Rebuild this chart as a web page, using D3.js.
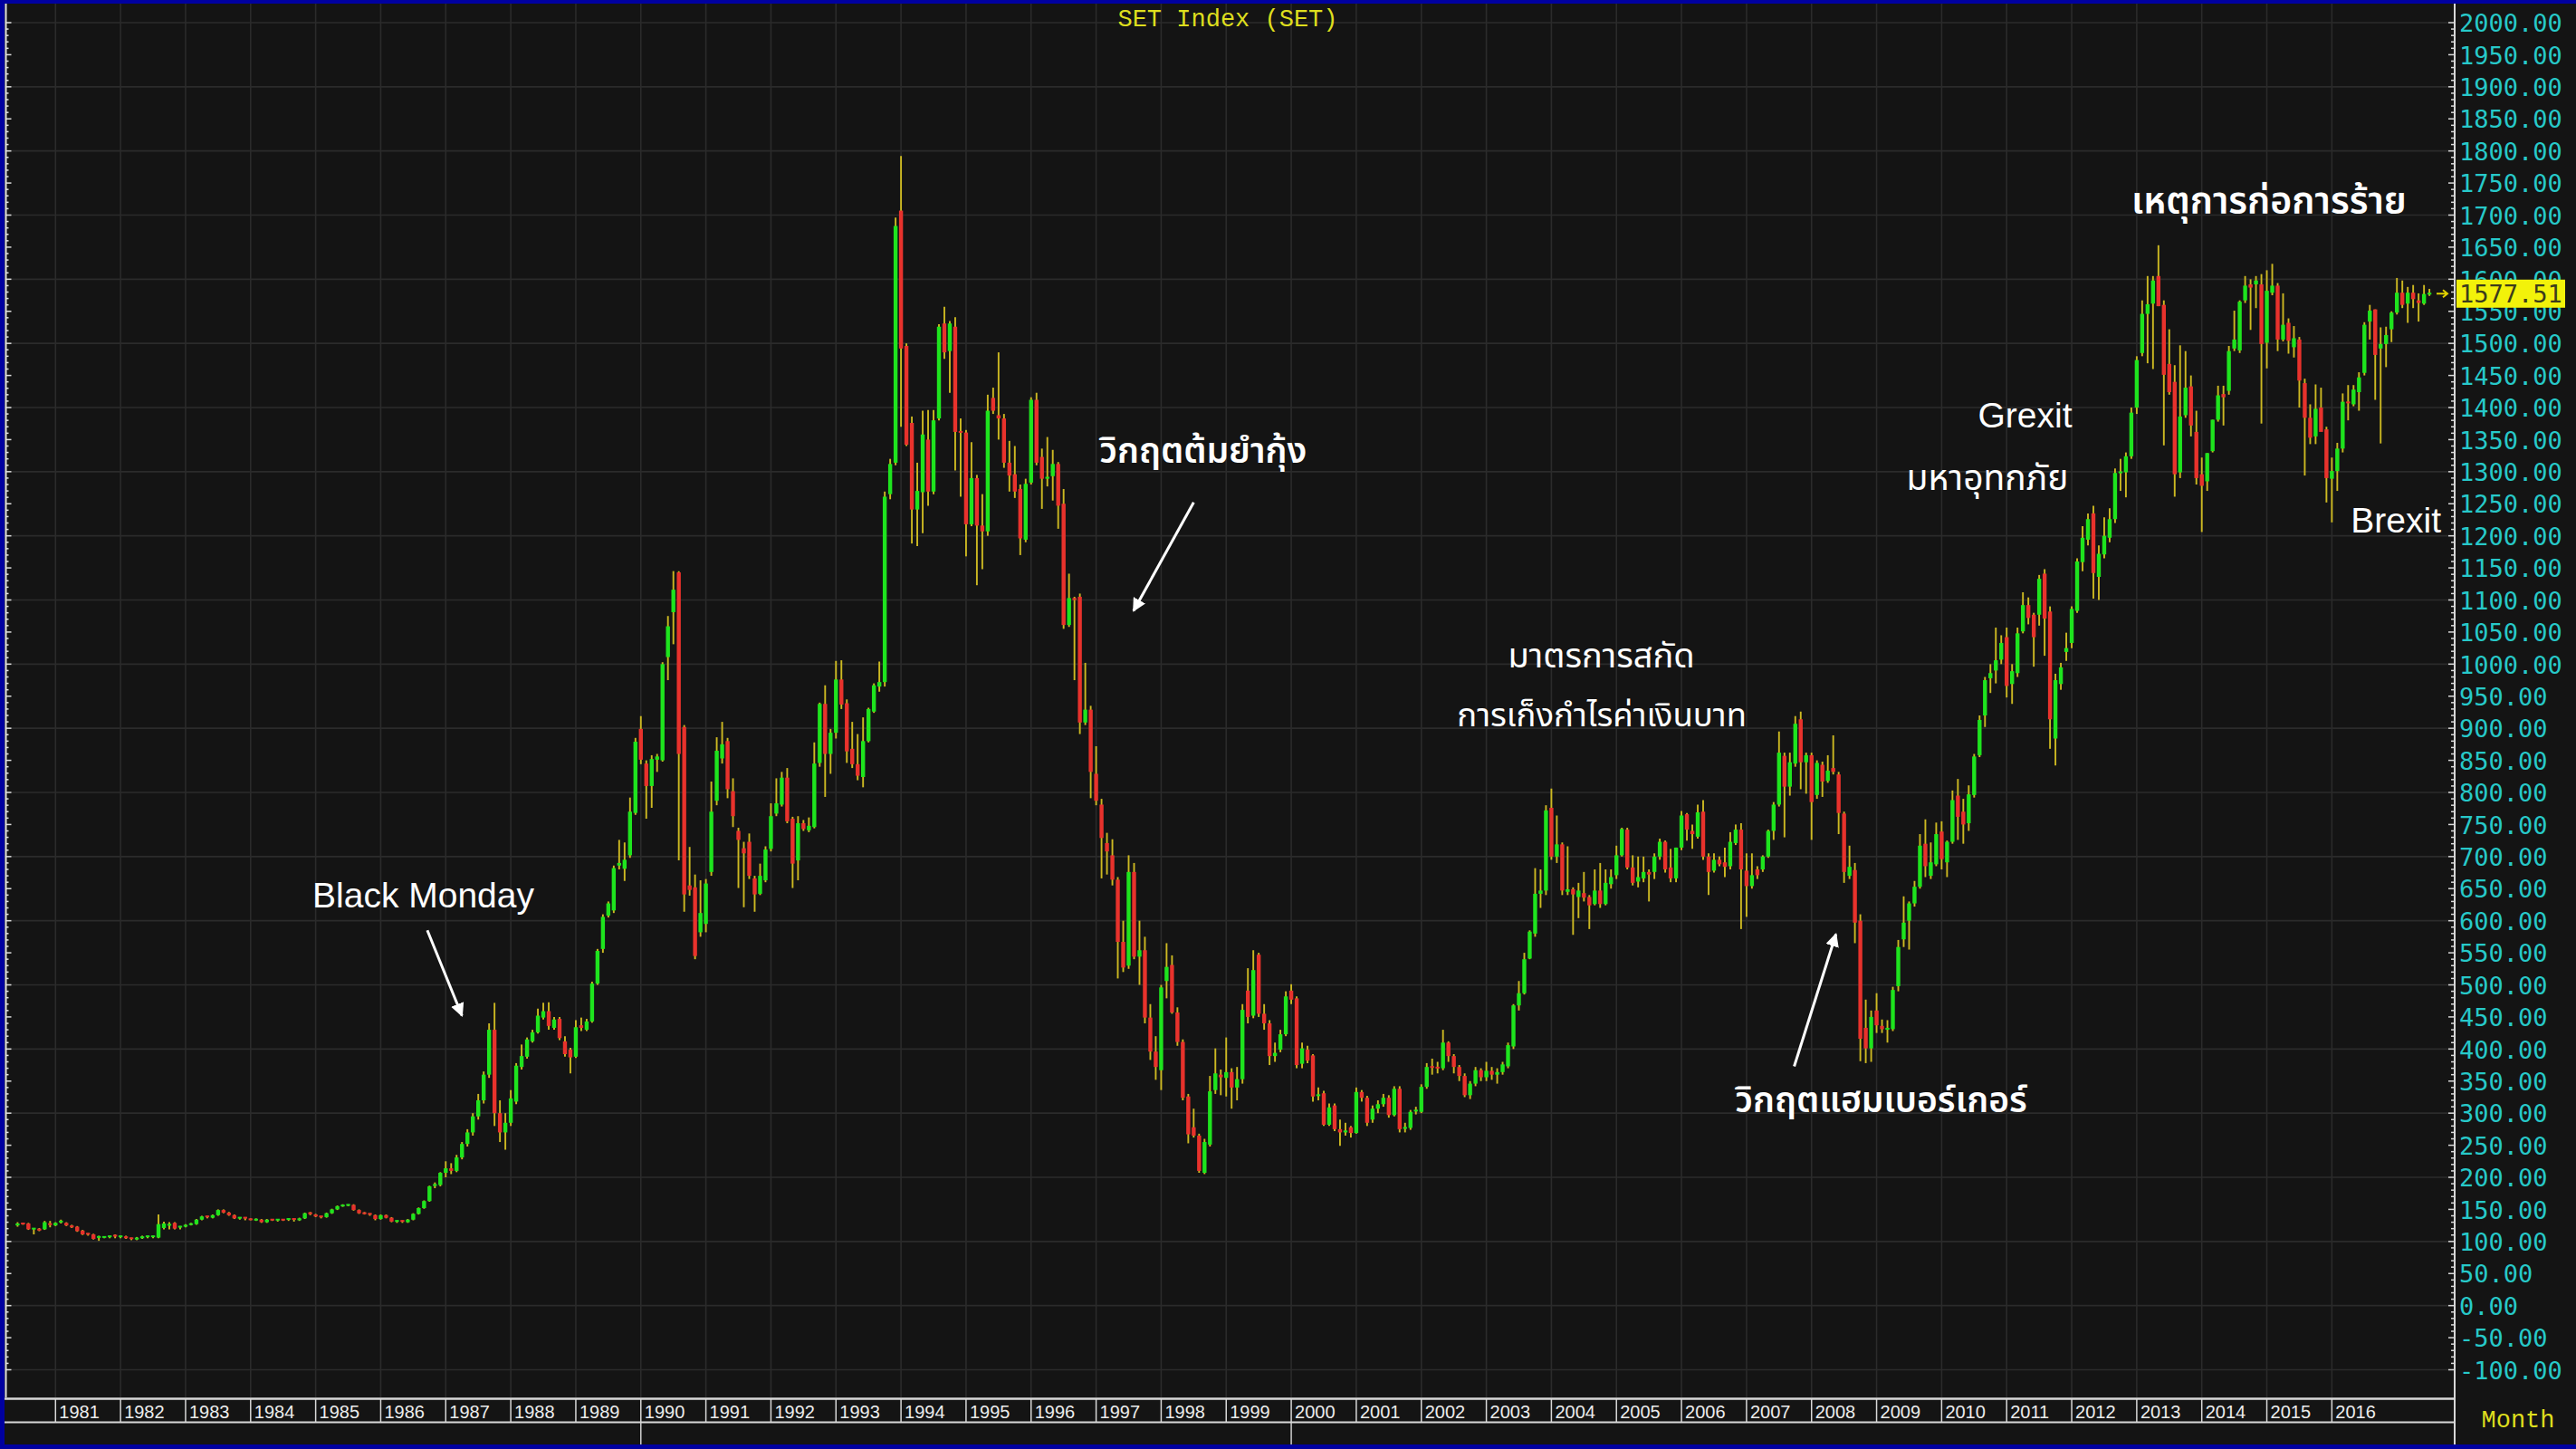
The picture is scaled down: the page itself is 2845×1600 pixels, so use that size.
<!DOCTYPE html>
<html><head><meta charset="utf-8">
<script src="https://cdn.jsdelivr.net/npm/d3@7"></script>
<style>
html,body{margin:0;padding:0;background:#0000a0;overflow:hidden}
svg{display:block}
</style>
</head><body>
<svg id="chart" width="2845" height="1600"></svg>
<script>
// ---------------- DATA ----------------
const title = "SET Index (SET)";
const firstMonth = "1980-06";            // first candle
const yearLabels = d3.range(1981, 2017); // 1981 ... 2016
const yTickValues = d3.range(-100, 2001, 50);
const lastPrice = 1577.51;
const periodLabel = "Month";

// monthly OHLC, one row per year (1980 starts in June, 2017 ends in July)
const opens = [
 125,128,128,119,120,119,127,
 125,129,129,125,123,117,112,111,105,106,106,109,
 106,108,105,103,105,106,106,106,121,126,129,121,
 123,126,127,134,139,137,141,149,145,141,136,137,
 134.5,134,134,130,134,133,134,133,135,133,136,144,
 142,139,138,144,150,155,156,157,149,144,143,141,
 135,141,137,131,132,130,134,143,152,163,186,188,
 207,214,210,231,252,270,295,320,360,430,300,270,
 285,318,372,388,412,426,449,459,433,447,412,399,
 388,437,430,443,502,556,608,616,686,681,702,768,
 899,845,810,851,850,1011,1081,1143,902,655,652,582,
 595,676,787,853,880,802,740,713,723,666,642,663,
 712,767,781,823,759,694,752,741,746,846,938,860,
 893,976,939,868,844,824,880,926,965,972,1265,1314,
 1707,1496,1376,1241,1268,1350,1269,1383,1531,1488,1526,1362,
 1361,1218,1290,1216,1207,1415,1388,1383,1314,1296,1273,1194,
 1283,1412,1323,1289,1293,1312,1250,1061,1103,1105,909,929,
 829,781,721,702,664,567,530,676,544,554,449,396,
 367,506,531,457,411,326,278,265,207,251,336,360,
 355,364,340,353,491,452,547,455,440,389,399,423,
 491,479,377,399,390,326,331,282,312,275,270,278,
 269,333,324,290,307,314,324,297,338,277,277,304,
 302,341,372,371,370,410,389,372,358,328,346,367,
 356,366,360,364,373,404,468,487,541,580,642,647,
 776,700,719,645,649,637,643,637,626,647,626,657,
 671,702,742,683,661,666,676,676,700,723,683,666,
 714,766,740,731,770,700,678,695,691,685,721,742,
 678,654,680,680,700,740,781,857,809,845,914,847,
 858,796,843,818,838,828,767,670,679,600,433,401,
 460,436,430,431,498,571,600,627,653,720,670,688,
 739,691,723,795,770,752,796,858,920,978,990,1007,
 1042,969,986,1051,1092,1077,1077,1141,1082,884,969,1019,
 1033,1083,1159,1194,1235,1136,1171,1197,1226,1298,1299,1324,
 1400,1485,1546,1562,1605,1560,1468,1440,1299,1388,1433,1362,
 1296,1285,1332,1381,1421,1426,1492,1489,1567,1592,1592,1592,
 1501,1579,1590,1506,1532,1494,1506,1438,1384,1355,1400,1366,
 1289,1301,1336,1408,1405,1424,1454,1534,1553,1492,1499,1522,
 1548,1579,1562,1579,1567,1562,1575
];
const highs = [
 130,129,129,121,121,132,132,
 130,134,130,126,124,118,113,112,109,108,109,111,
 109,109,106,107,109,109,109,142,131,130,130,124,
 127,129,135,140,140,142,150,150,146,142,138,138,
 136,136,135,135,135,135,135,136,136,137,145,146,
 143,140,145,151,156,158,158,158,150,146,144,142,
 142,142,138,133,133,135,144,153,164,187,192,208,
 225,222,235,255,275,300,330,365,440,472,320,300,
 336,378,407,418,430,463,472,473,450,450,420,402,
 445,449,447,505,556,610,630,686,726,722,792,885,
 919,850,858,860,1003,1075,1145,1145,905,715,672,663,
 665,817,886,910,885,822,745,723,736,670,689,716,
 783,822,832,838,762,763,757,761,878,940,967,899,
 1005,1006,945,910,891,917,932,970,1004,1269,1320,1696,
 1792,1500,1386,1314,1395,1396,1396,1530,1557,1535,1541,1383,
 1365,1346,1295,1265,1420,1431,1486,1390,1348,1340,1280,1289,
 1416,1423,1336,1354,1334,1315,1273,1141,1105,1110,1002,935,
 872,790,737,727,668,600,702,690,600,575,470,420,
 500,565,546,465,415,330,307,268,260,358,401,368,
 418,370,372,470,526,554,550,470,445,410,430,490,
 501,482,410,405,392,340,335,315,315,290,285,280,
 340,336,327,312,320,330,328,342,342,285,305,310,
 345,378,385,380,430,412,392,375,362,350,372,370,
 380,372,370,380,410,470,506,550,585,682,680,780,
 806,764,722,716,652,659,676,640,680,690,680,680,
 717,745,745,702,700,700,680,705,728,725,712,714,
 771,768,750,781,788,705,705,700,714,738,750,752,
 705,705,685,702,742,785,895,862,862,919,926,862,
 862,850,848,858,889,832,770,717,690,610,477,460,
 487,446,445,497,570,638,630,662,735,758,722,753,
 755,725,803,821,790,811,860,920,980,1000,1057,1045,
 1057,1000,1057,1112,1104,1080,1139,1148,1090,985,1002,1049,
 1090,1165,1215,1235,1247,1185,1229,1243,1305,1320,1330,1400,
 1480,1567,1605,1605,1653,1567,1522,1466,1497,1488,1450,1395,
 1322,1329,1381,1434,1434,1496,1551,1567,1605,1600,1605,1608,
 1614,1624,1594,1578,1539,1527,1510,1445,1405,1436,1431,1370,
 1322,1345,1422,1435,1435,1455,1533,1560,1553,1525,1526,1550,
 1602,1598,1588,1591,1578,1591,1585
];
const lows = [
 123,126,118,111,116,118,122,
 124,128,124,121,115,110,109,103,101,105,105,105,
 105,104,102,102,104,105,105,105,119,119,119,119,
 122,125,126,133,136,136,140,144,140,135,134,133,
 133,132,129,129,132,131,132,132,131,132,135,141,
 138,136,137,143,149,154,155,148,143,142,140,133,
 134,136,130,129,129,129,133,142,151,162,183,186,
 200,205,208,228,248,265,290,315,355,280,255,243,
 280,314,368,385,410,424,446,430,430,414,388,362,
 386,428,428,441,500,550,605,612,680,662,698,765,
 844,759,776,832,848,975,1031,694,614,639,540,575,
 582,670,780,845,791,746,651,621,665,614,640,660,
 708,763,778,752,651,663,740,738,744,840,793,829,
 884,930,846,838,819,808,878,924,957,965,1257,1310,
 1370,1340,1188,1184,1204,1247,1265,1380,1476,1423,1302,1261,
 1168,1215,1123,1148,1200,1390,1350,1306,1269,1259,1170,1190,
 1280,1310,1242,1277,1255,1211,1055,1058,975,891,905,791,
 780,666,672,655,510,520,525,540,500,440,383,352,
 336,479,455,405,320,253,262,207,205,248,330,328,
 326,307,320,346,440,448,450,430,375,380,395,420,
 470,370,370,378,318,320,280,280,272,249,265,262,
 268,318,280,285,300,310,293,295,270,270,274,298,
 300,338,360,362,367,380,362,350,325,322,342,350,
 350,352,346,360,370,400,460,485,540,575,620,640,
 695,690,640,640,578,604,630,587,624,620,624,650,
 665,700,680,655,652,660,630,665,695,675,660,660,
 710,725,712,728,695,640,675,685,668,680,718,587,
 606,650,665,676,698,726,778,730,795,840,805,798,
 726,790,793,815,828,735,659,665,565,381,378,380,
 425,425,410,428,490,559,555,622,650,668,665,685,
 680,668,720,726,720,740,792,855,902,955,970,1000,
 948,938,980,1048,1062,996,1060,1013,868,842,960,1005,
 1025,1080,1145,1185,1102,1100,1165,1190,1220,1270,1260,1320,
 1390,1480,1469,1460,1558,1341,1420,1261,1290,1384,1355,1280,
 1206,1270,1330,1378,1372,1420,1488,1485,1563,1521,1555,1375,
 1461,1575,1488,1503,1484,1478,1400,1294,1343,1343,1397,1252,
 1221,1270,1330,1380,1402,1395,1450,1506,1412,1344,1463,1502,
 1545,1555,1532,1555,1534,1560,1574
];
const closes = [
 128,127,119,120,117,130,125,
 129,131,125,122,116,111,110,104,107,107,108,106.6,
 108,105,103,106,108,108,108,127,128,126,120,123,
 126,127,134,139,137,141,149,145,141,136,137,134.5,
 134,134,130,134,133,134,133,135,133,136,144,142.3,
 139,138,144,150,155,156,157,149,144,143,141,135,
 141,137,131,132,130,134,143,152,163,186,188,207,
 214,210,231,252,270,295,320,360,430,300,270,285,
 323,374,389,415,426,452,459,436,446,417,392,387,
 434,433,443,502,553,606,627,682,690,695,770,879,
 851,810,852,856,1000,1059,1116,860,641,648,545,612,
 658,770,865,875,805,763,726,705,670,641,670,711,
 763,783,823,755,689,752,743,748,845,938,860,893,
 976,937,864,844,826,880,930,967,972,1261,1312,1683,
 1492,1342,1241,1270,1358,1269,1380,1526,1486,1531,1362,1360,
 1218,1290,1216,1207,1395,1395,1383,1314,1294,1269,1196,1281,
 1412,1314,1289,1292,1312,1247,1061,1103,1100,909,929,832,
 787,729,708,664,567,527,676,544,554,449,396,372,
 496,528,457,411,324,267,265,210,255,334,362,356,
 364,340,353,461,450,523,455,440,389,394,423,482,
 477,375,401,382,326,328,282,309,275,270,273,269,
 333,324,285,307,314,324,297,338,275,277,302,304,
 341,372,371,370,410,389,372,358,328,346,367,356,
 366,360,364,376,406,468,487,540,583,642,647,772,
 700,719,647,649,641,647,636,624,647,626,659,668,
 702,743,683,659,668,676,672,700,723,680,666,714,
 764,742,735,769,700,676,695,688,684,723,742,680,
 654,671,671,700,740,781,862,809,847,907,847,858,
 785,846,817,834,832,768,676,684,597,416,401,450,
 437,431,433,492,559,597,627,653,717,685,691,735,
 696,723,788,762,750,797,856,913,975,986,1006,1033,
 966,989,1048,1092,1072,1042,1133,1071,914,975,995,1025,
 1086,1160,1197,1226,1142,1172,1200,1226,1298,1299,1324,1392,
 1474,1546,1561,1598,1558,1451,1424,1296,1386,1431,1372,1290,
 1278,1329,1381,1419,1416,1488,1506,1565,1590,1587,1598,1499,
 1582,1590,1506,1529,1504,1508,1442,1384,1353,1398,1362,1290,
 1301,1336,1409,1406,1428,1447,1529,1551,1482,1499,1513,1548,
 1579,1560,1579,1569,1563,1577,1577.51
];

// annotation texts (Thai + English)
const annotationTexts = [
  "Black Monday", "วิกฤตต้มยำกุ้ง", "มาตรการสกัด", "การเก็งกำไรค่าเงินบาท",
  "วิกฤตแฮมเบอร์เกอร์", "Grexit", "มหาอุทกภัย", "เหตุการก่อการร้าย", "Brexit"
];

// ---------------- DRAW ----------------
const W = 2845, H = 1600;
const P = {left: 5, top: 4, right: 2711, bottom: 1543};
const svg = d3.select("#chart");

const x = d3.scaleLinear().domain([0, 432]).range([61.3, 2647.2]);  // months since Jan 1981
const y = d3.scaleLinear().domain([-100, 2000]).range([1512.5, 25]);
const m0 = (+firstMonth.slice(0,4) - 1981) * 12 + (+firstMonth.slice(5) - 1);

const data = closes.map((c, i) => ({m: m0 + i, o: opens[i], h: highs[i], l: lows[i], c}));

// frame
svg.append("rect").attr("x",0).attr("y",0).attr("width",W).attr("height",H).attr("fill","#0000a0");
svg.append("rect").attr("x",P.left).attr("y",P.top).attr("width",W-P.left).attr("height",1595-P.top).attr("fill","#141414");

const defs = svg.append("defs");
defs.append("clipPath").attr("id","plotclip")
  .append("rect").attr("x",P.left).attr("y",P.top).attr("width",P.right-P.left).attr("height",P.bottom-P.top);

const grid = svg.append("g").attr("clip-path","url(#plotclip)");
grid.selectAll("line.hg").data(d3.range(-100, 2001, 100)).join("line")
  .attr("x1",P.left).attr("x2",P.right).attr("y1",d=>y(d)).attr("y2",d=>y(d))
  .attr("stroke","#2b2b2b").attr("stroke-width",1.6);
grid.selectAll("line.vg").data(yearLabels).join("line")
  .attr("x1",d=>x((d-1981)*12)).attr("x2",d=>x((d-1981)*12)).attr("y1",P.top).attr("y2",P.bottom)
  .attr("stroke","#2b2b2b").attr("stroke-width",1.6);

// title
svg.append("text").attr("x",1356).attr("y",29).attr("text-anchor","middle")
  .attr("font-family","'Courier New','Liberation Mono',monospace").attr("font-size",27)
  .attr("fill","#dede1e").text(title);

// candles
const cg = svg.append("g").attr("clip-path","url(#plotclip)");
cg.selectAll("line.wick").data(data).join("line")
  .attr("x1",d=>x(d.m)).attr("x2",d=>x(d.m))
  .attr("y1",d=>y(d.h)).attr("y2",d=>y(d.l))
  .attr("stroke","#cdb922").attr("stroke-width",1.9);
cg.selectAll("rect.body").data(data).join("rect")
  .attr("x",d=>x(d.m)-2.2).attr("width",4.4)
  .attr("y",d=>Math.min(y(d.o),y(d.c)) - (Math.abs(y(d.o)-y(d.c))<2 ? 1 : 0))
  .attr("height",d=>Math.max(2, Math.abs(y(d.o)-y(d.c))))
  .attr("fill",d=>d.c>=d.o ? "#1ee41e" : "#e8322c");

// left ruler
const rulerTicks = d3.range(-100, 2001, 10);
const lr = svg.append("g");
lr.append("line").attr("x1",6.5).attr("x2",6.5).attr("y1",P.top).attr("y2",P.bottom).attr("stroke","#e0e0e0").attr("stroke-width",2);
lr.selectAll("line.t").data(rulerTicks).join("line")
  .attr("x1",6.5).attr("x2",d=>d%50===0?12.5:9.5).attr("y1",d=>y(d)).attr("y2",d=>y(d))
  .attr("stroke","#e0e0e0").attr("stroke-width",1.5);

// right ruler + axis line
const rr = svg.append("g");
rr.append("line").attr("x1",P.right).attr("x2",P.right).attr("y1",P.top).attr("y2",1595).attr("stroke","#d8d8d8").attr("stroke-width",2);
rr.selectAll("line.t").data(rulerTicks).join("line")
  .attr("x1",P.right).attr("x2",d=>d%50===0?P.right-7:P.right-4).attr("y1",d=>y(d)).attr("y2",d=>y(d))
  .attr("stroke","#d8d8d8").attr("stroke-width",1.5);

// y axis labels
const yAxis = d3.axisRight(y).tickValues(yTickValues).tickFormat(d=>d.toFixed(2)).tickSize(0).tickPadding(5);
const ya = svg.append("g").attr("transform",`translate(${P.right},0)`).call(yAxis);
ya.select(".domain").remove();
ya.selectAll("text").attr("font-family","'DejaVu Sans Mono','Liberation Mono',monospace")
  .attr("font-size",27).attr("fill","#27c9c9").attr("dy","0.36em");

// last price label
const ly = y(lastPrice);
svg.append("rect").attr("x",2713).attr("y",ly-15.5).attr("width",120).attr("height",31).attr("fill","#f2f20a");
svg.append("text").attr("x",2716).attr("y",ly).attr("dy","0.36em")
  .attr("font-family","'DejaVu Sans Mono','Liberation Mono',monospace").attr("font-size",27)
  .attr("fill","#3c3c1c").text(lastPrice.toFixed(2));
svg.append("path").attr("d",`M${2691},${ly}H${2702}M${2698},${ly-4}L${2703},${ly}L${2698},${ly+4}`)
  .attr("stroke","#e0d000").attr("stroke-width",2).attr("fill","none");

// x axis band
const xb = svg.append("g");
xb.append("line").attr("x1",P.left).attr("x2",P.right).attr("y1",1544.5).attr("y2",1544.5).attr("stroke","#d8d8d8").attr("stroke-width",2.5);
xb.append("line").attr("x1",P.left).attr("x2",P.right).attr("y1",1570.5).attr("y2",1570.5).attr("stroke","#d8d8d8").attr("stroke-width",2);
xb.selectAll("line.ys").data(yearLabels).join("line")
  .attr("x1",d=>x((d-1981)*12)).attr("x2",d=>x((d-1981)*12)).attr("y1",1545).attr("y2",1570)
  .attr("stroke","#d8d8d8").attr("stroke-width",1.5);
xb.selectAll("text.yl").data(yearLabels).join("text")
  .attr("x",d=>x((d-1981)*12)+4).attr("y",1566)
  .attr("font-family","'Liberation Sans',Arial,sans-serif").attr("font-size",20)
  .attr("fill","#ececec").text(d=>d);
xb.selectAll("line.dec").data(yearLabels.filter(d=>d%10===0 && d<2010)).join("line")
  .attr("x1",d=>x((d-1981)*12)).attr("x2",d=>x((d-1981)*12)).attr("y1",1571).attr("y2",1595)
  .attr("stroke","#d0d0d0").attr("stroke-width",1.5);

svg.append("text").attr("x",2781).attr("y",1576).attr("text-anchor","middle")
  .attr("font-family","'Courier New','Liberation Mono',monospace").attr("font-size",27)
  .attr("fill","#dede1e").text(periodLabel);

// annotations, anchored at [month index since Jan 1981, index value]
const thaiFont = "'Noto Sans Thai','Noto Sans Thai UI','Kanit','Sarabun','Loma','Garuda',sans-serif";
const latinFont = "'Liberation Sans',Arial,Helvetica,sans-serif";
const ann = svg.append("g").attr("fill","#ffffff");
const annPos = [
  {m:47.4,  v:621,  w:400, s:39, f:latinFont},
  {m:192.6, v:1314, w:600, s:39, f:thaiFont},
  {m:268.0, v:995,  w:400, s:38, f:thaiFont},
  {m:258.6, v:903,  w:400, s:36.5, f:thaiFont},
  {m:309.9, v:301,  w:600, s:39, f:thaiFont},
  {m:354.7, v:1369, w:400, s:39, f:latinFont},
  {m:341.5, v:1272, w:400, s:39, f:thaiFont},
  {m:383.0, v:1702, w:600, s:41, f:thaiFont},
  {m:423.5, v:1205, w:400, s:39, f:latinFont}
];
annotationTexts.forEach((t,i)=>{
  const a = annPos[i];
  ann.append("text").attr("x",x(a.m)).attr("y",y(a.v))
    .attr("font-family",a.f).attr("font-size",a.s).attr("font-weight",a.w).text(t);
});

// arrows (from -> to, in [month, value])
const arrows = [
  [[68.6, 585], [75.0, 452]],
  [[210.0, 1252], [198.9, 1083]],
  [[320.8, 373], [328.5, 579]]
];
defs.append("marker").attr("id","ah").attr("viewBox","0 0 10 10").attr("refX",9).attr("refY",5)
  .attr("markerWidth",5).attr("markerHeight",5).attr("orient","auto-start-reverse")
  .append("path").attr("d","M0,0L10,5L0,10z").attr("fill","#ffffff");
svg.selectAll("line.arrow").data(arrows).join("line")
  .attr("x1",d=>x(d[0][0])).attr("y1",d=>y(d[0][1])).attr("x2",d=>x(d[1][0])).attr("y2",d=>y(d[1][1]))
  .attr("stroke","#ffffff").attr("stroke-width",3).attr("marker-end","url(#ah)");
</script>
</body></html>
